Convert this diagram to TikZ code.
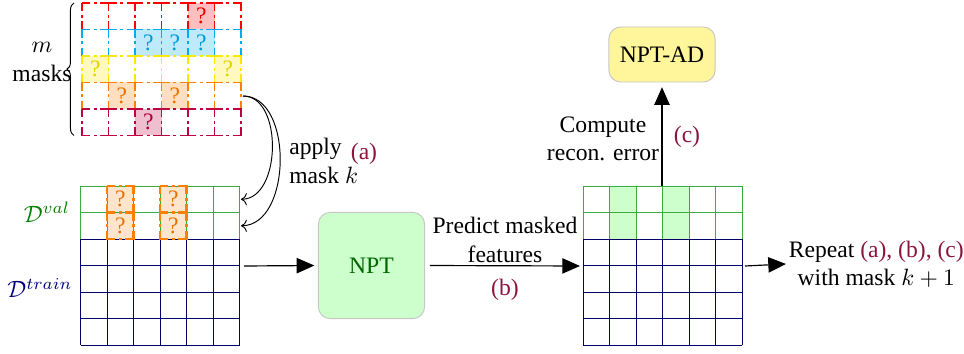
\documentclass[tikz,border=0pt]{standalone}
\usepackage[no-math]{fontspec}
\setmainfont{Liberation Serif}
\usetikzlibrary{arrows.meta,decorations.pathreplacing,positioning}
\definecolor{mcyan}{RGB}{0,172,238}
\definecolor{myellow}{RGB}{255,232,0}
\definecolor{labred}{RGB}{140,20,60}
\definecolor{valgreen}{RGB}{60,170,60}
\definecolor{trainblue}{RGB}{0,0,102}
\definecolor{adyellow}{RGB}{255,245,155}
\tikzset{
    maskline/.style={line width=0.8pt, dash pattern=on 6.8pt off 1.6pt on 1.2pt off 1.628pt, dash phase=3.4pt},
    qmark/.style={inner sep=0pt},
    procbox/.style={draw=gray!45, rounded corners=5pt, minimum width=45pt, minimum height=45pt},
    bigarrow/.style={-{Triangle[length=7.5pt,width=6.5pt]}, line width=0.5pt},
    tag/.style={text=labred},
}
\begin{document}
\begin{tikzpicture}[x=0.4237pt, y=-0.4237pt]
    \useasboundingbox (0,0) rectangle (964,354);
    % m masks, one colour per row
    \foreach \c/\q [count=\r from 0] in {red/{4}, mcyan/{2,3,4}, myellow/{0,5}, orange/{1,3}, purple/{2}} {
        \foreach \i in \q
            \fill[\c!25] (82+26.5*\i, 3+26.5*\r) rectangle ++(26.5,26.5);
        \foreach \i in {0,...,5}
            \draw[maskline, \c] (82+26.5*\i, 3+26.5*\r) rectangle ++(26.5,26.5);
        \foreach \i in \q
            \node[qmark, text=\c!90!black] at (95.25+26.5*\i, 16.25+26.5*\r) {?};
    }
    \draw[decorate, decoration={brace, amplitude=3pt}] (74,135.5) -- (74,3);
    \node[align=center] (mtext) at (42,62) {$m$\\masks};
    % input table
    \foreach \i in {1,3}
        \fill[orange!20] (80.5+26.5*\i, 186) rectangle ++(26.5,53);
    \foreach \i in {0,...,6}
        \draw[valgreen] (80.5+26.5*\i, 186) -- ++(0,53);
    \foreach \j in {0,1}
        \draw[valgreen] (80.5, 186+26.5*\j) -- ++(159,0);
    \foreach \i in {0,...,6}
        \draw[trainblue] (80.5+26.5*\i, 239) -- ++(0,106);
    \foreach \j in {0,...,4}
        \draw[trainblue] (80.5, 239+26.5*\j) -- ++(159,0);
    \foreach \i in {1,3}
        \foreach \j in {0,1} {
            \draw[maskline, orange, line width=1pt] (80.5+26.5*\i, 186+26.5*\j) rectangle ++(26.5,26.5);
            \node[qmark, text=orange!90!black] at (93.75+26.5*\i, 199.25+26.5*\j) {?};
        }
    \node[text=green!50!black] (dval) at (47,212) {$\mathcal{D}^{val}$};
    \node[text=blue!50!black] (dtrain) at (40,288) {$\mathcal{D}^{train}$};
    % predicted table
    \foreach \i in {1,3}
        \fill[green!20] (583+26.5*\i, 186) rectangle ++(26.5,53);
    \foreach \i in {0,...,6}
        \draw[valgreen] (583+26.5*\i, 186) -- ++(0,53);
    \foreach \j in {0,1}
        \draw[valgreen] (583, 186+26.5*\j) -- ++(159,0);
    \foreach \i in {0,...,6}
        \draw[trainblue] (583+26.5*\i, 239) -- ++(0,106);
    \foreach \j in {0,...,4}
        \draw[trainblue] (583, 239+26.5*\j) -- ++(159,0);
    % anchor points
    \coordinate (mask-e) at (243,96);
    \coordinate (val-a) at (241,199.25);
    \coordinate (val-b) at (241,225.75);
    \coordinate (data-e) at (244,266);
    \coordinate (pred-w) at (580,266);
    \coordinate (pred-n) at (662,186);
    \coordinate (pred-e) at (745,266);
    % boxes
    \node[procbox, fill=green!20, text=green!40!black] (npt) at (371.5,265.5) {NPT};
    \node[procbox, fill=adyellow, minimum height=23.3pt] (ad) at (662,54.5) {NPT-AD};
    % apply mask k
    \draw[->] (mask-e) to[out=0, in=0] (val-a);
    \draw[->] (mask-e) to[out=0, in=0] (val-b);
    \node[align=left, anchor=west] (apply) at (281,161) {apply\\mask $k$};
    \node[tag] (taga) at (364,154) {(a)};
    % predict
    \draw[bigarrow, shorten >=1.5pt] (data-e) -- (npt.west);
    \draw[bigarrow, shorten <=2pt] (npt.east) -- (pred-w);
    \node[align=center] (predict) at (505,240) {Predict masked\\features};
    \node[tag] (tagb) at (505,290) {(b)};
    % error
    \draw[bigarrow, shorten >=2pt] (pred-n) -- (ad.south);
    \node[align=center] (comp) at (603,139) {Compute\\recon. error};
    \node[tag] (tagc) at (687,137) {(c)};
    % repeat
    \node[align=center, inner sep=1pt, anchor=west] (repeat) at (786,264) {Repeat \textcolor{labred}{(a), (b), (c)}\\with mask $k+1$};
    \draw[bigarrow] (pred-e) -- (repeat.west);
\end{tikzpicture}
\end{document}
